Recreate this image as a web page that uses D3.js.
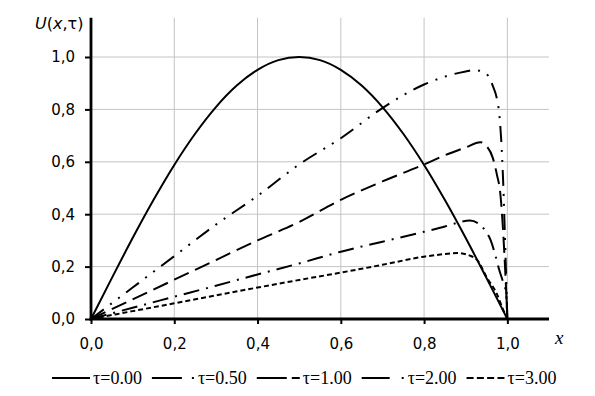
<!DOCTYPE html>
<html>
<head>
<meta charset="utf-8">
<script src="https://cdn.jsdelivr.net/npm/d3@7"></script>
<style>
  html, body { margin: 0; padding: 0; background: #fff; }
  svg { display: block; }
</style>
</head>
<body>
<svg id="chart" width="595" height="396"></svg>
<script>
// values
const xTicks = [0, 0.2, 0.4, 0.6, 0.8, 1.0];
const yTicks = [0, 0.2, 0.4, 0.6, 0.8, 1.0];
const seriesNames = ["τ=0.00", "τ=0.50", "τ=1.00", "τ=2.00", "τ=3.00"];

const x0 = [0, 0.05, 0.1, 0.15, 0.2, 0.25, 0.3, 0.35, 0.4, 0.45, 0.5, 0.55, 0.6, 0.65, 0.7, 0.75, 0.8, 0.85, 0.9, 0.95, 1.0];
const u0 = [0, 0.156, 0.309, 0.454, 0.588, 0.707, 0.809, 0.891, 0.951, 0.988, 1.0, 0.988, 0.951, 0.891, 0.809, 0.707, 0.588, 0.454, 0.309, 0.156, 0];

const x05 = [0, 0.1, 0.2, 0.3, 0.4, 0.5, 0.6, 0.7, 0.8, 0.85, 0.9, 0.92, 0.94, 0.955, 0.965, 0.975, 0.98, 0.985, 0.99, 0.995, 1.0];
const u05 = [0, 0.12, 0.24, 0.36, 0.47, 0.59, 0.69, 0.805, 0.895, 0.925, 0.945, 0.95, 0.945, 0.925, 0.89, 0.84, 0.79, 0.69, 0.52, 0.27, 0];

const x1 = [0, 0.1, 0.2, 0.3, 0.4, 0.5, 0.6, 0.7, 0.8, 0.85, 0.9, 0.935, 0.95, 0.965, 0.975, 0.983, 0.99, 0.995, 1.0];
const u1 = [0, 0.075, 0.15, 0.225, 0.30, 0.37, 0.455, 0.525, 0.59, 0.625, 0.655, 0.675, 0.66, 0.615, 0.55, 0.48, 0.33, 0.18, 0];

const x2 = [0, 0.1, 0.2, 0.3, 0.4, 0.5, 0.6, 0.7, 0.8, 0.85, 0.88, 0.91, 0.93, 0.95, 0.96, 0.97, 0.98, 0.99, 0.997, 1.0];
const u2 = [0, 0.043, 0.085, 0.127, 0.17, 0.212, 0.257, 0.295, 0.333, 0.353, 0.367, 0.376, 0.365, 0.33, 0.30, 0.25, 0.19, 0.14, 0.10, 0];

const x3 = [0, 0.1, 0.2, 0.3, 0.4, 0.5, 0.6, 0.7, 0.8, 0.85, 0.88, 0.91, 0.93, 0.95, 0.975, 0.99, 1.0];
const u3 = [0, 0.03, 0.06, 0.09, 0.12, 0.149, 0.177, 0.207, 0.238, 0.248, 0.252, 0.242, 0.22, 0.16, 0.095, 0.035, 0];

const seriesX = [x0, x05, x1, x2, x3];
const seriesU = [u0, u05, u1, u2, u3];

// line styles: plot dash, legend sample dash and sample length
const plotDash = [null, "16,8,2,8,2,8", "16,7", "16,7,2,7", "5,3"];
const legendDash = [null, "30,10,2,100", "30,5,8,100", "28,12,2,100", "7,3.3"];
const legendLen = [38, 43, 43, 43, 38];

const svg = d3.select("#chart");

const x = d3.scaleLinear().domain([0, 1.1]).range([91, 549]);
const y = d3.scaleLinear().domain([0, 1.15]).range([319, 17.7]);

// grid
const grid = svg.append("g").attr("stroke", "#c4c4c4").attr("stroke-width", 1);
grid.selectAll("line.v")
  .data(xTicks.slice(1))
  .enter().append("line")
  .attr("x1", d => x(d)).attr("x2", d => x(d))
  .attr("y1", y(0)).attr("y2", y(1.15));
grid.selectAll("line.h")
  .data(yTicks.slice(1))
  .enter().append("line")
  .attr("x1", x(0)).attr("x2", x(1.1))
  .attr("y1", d => y(d)).attr("y2", d => y(d));

// curves
const line = d3.line()
  .x(d => x(d[0]))
  .y(d => y(d[1]))
  .curve(d3.curveMonotoneX);

seriesNames.forEach((name, i) => {
  const pts = seriesX[i].map((v, j) => [v, seriesU[i][j]]);
  svg.append("path")
    .datum(pts)
    .attr("fill", "none")
    .attr("stroke", "#000")
    .attr("stroke-width", 2)
    .attr("stroke-dasharray", plotDash[i])
    .attr("d", line);
});

// axes
const fontSans = "DejaVu Sans, sans-serif";
const fmt = d => d3.format(".1f")(d).replace(".", ",");

const yAxis = svg.append("g")
  .attr("transform", `translate(${x(0)},0)`)
  .call(d3.axisLeft(y).tickValues(yTicks).tickSize(6).tickPadding(10).tickFormat(fmt));
yAxis.select(".domain").attr("d", `M0,${y(1.15)}V${y(0) + 1.5}`).attr("stroke-width", 2.8);
yAxis.selectAll(".tick line").attr("stroke-width", 2);
yAxis.selectAll(".tick text").attr("font-family", fontSans).attr("font-size", 15).attr("fill", "#000");

const xAxis = svg.append("g")
  .attr("transform", `translate(0,${y(0)})`)
  .call(d3.axisBottom(x).tickValues(xTicks).tickSize(5).tickPadding(14).tickFormat(fmt));
xAxis.select(".domain").attr("d", `M${x(0) - 1.4},0H${x(1.1)}`).attr("stroke-width", 2.8);
xAxis.selectAll(".tick line").attr("stroke-width", 2);
xAxis.selectAll(".tick text").attr("font-family", fontSans).attr("font-size", 15).attr("fill", "#000");

// axis titles
const yTitle = svg.append("text")
  .attr("x", 35).attr("y", 29)
  .attr("font-family", fontSans).attr("font-size", 16);
yTitle.append("tspan").attr("font-style", "italic").text("U");
yTitle.append("tspan").text("(");
yTitle.append("tspan").attr("font-style", "italic").text("x");
yTitle.append("tspan").text(",τ)");

svg.append("text")
  .attr("x", 555).attr("y", 343.5)
  .attr("font-family", "Liberation Serif, serif")
  .attr("font-style", "italic")
  .attr("font-size", 19)
  .text("x");

// legend
const legend = svg.append("g");
let lx = 52;
const ly = 378;
seriesNames.forEach((name, i) => {
  legend.append("line")
    .attr("x1", lx).attr("x2", lx + legendLen[i])
    .attr("y1", ly).attr("y2", ly)
    .attr("stroke", "#000")
    .attr("stroke-width", 2)
    .attr("stroke-dasharray", legendDash[i]);
  const t = legend.append("text")
    .attr("x", lx + legendLen[i] + 3).attr("y", ly + 5.5)
    .attr("font-family", "Liberation Serif, serif")
    .attr("font-size", 18)
    .text(name);
  lx += legendLen[i] + 3 + t.node().getComputedTextLength() + 10;
});
</script>
</body>
</html>
